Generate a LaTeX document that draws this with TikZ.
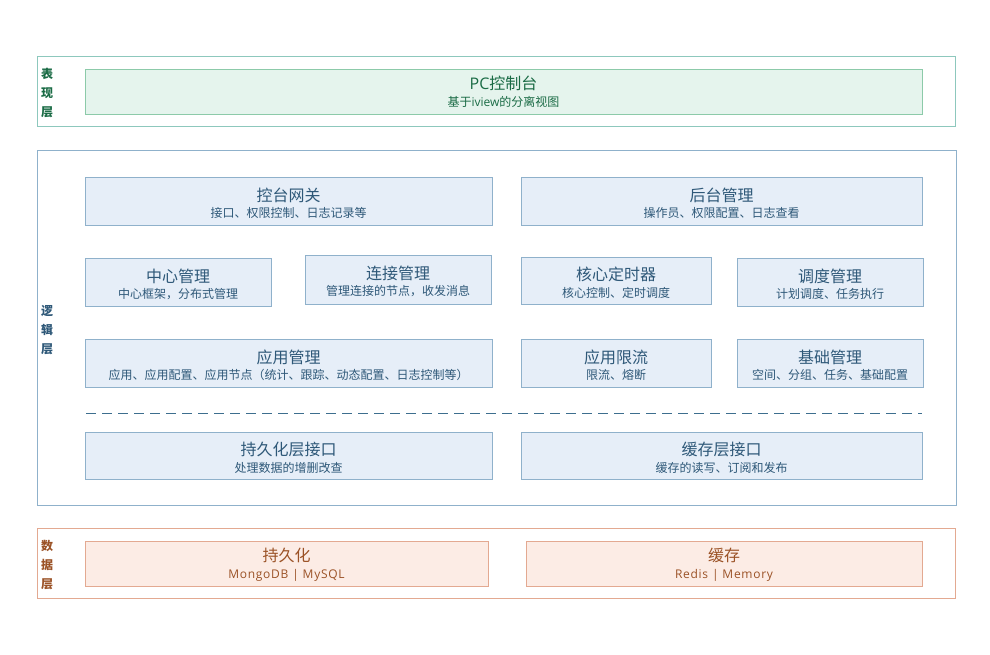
\documentclass[tikz,border=0pt]{standalone}
\usepackage{fontspec}
\setmainfont{Noto Sans CJK SC}
\newfontfamily\latinfont{Open Sans}[LetterSpace=6]
\newfontfamily\latinplain{Open Sans}
\usetikzlibrary{calc,fit}
\definecolor{presline}{HTML}{8DC8BD}
\definecolor{presbox}{HTML}{8CCAA9}
\definecolor{presfill}{HTML}{E5F4ED}
\definecolor{prestext}{HTML}{1A6B45}
\definecolor{logline}{HTML}{8FB1CB}
\definecolor{logfill}{HTML}{E6EEF8}
\definecolor{logtext}{HTML}{2E5878}
\definecolor{dashcol}{HTML}{3D6E8E}
\definecolor{datline}{HTML}{E3A991}
\definecolor{datfill}{HTML}{FCECE5}
\definecolor{dattext}{HTML}{9B5226}
\tikzset{
  outerbox/.style={draw=#1, line width=0.9pt, inner sep=0pt, outer sep=0pt},
  pbox/.style={draw=presbox, fill=presfill, line width=0.9pt, inner sep=0pt, outer sep=0pt},
  lbox/.style={draw=logline, fill=logfill, line width=0.9pt, inner sep=0pt, outer sep=0pt},
  dbox/.style={draw=datline, fill=datfill, line width=0.9pt, inner sep=0pt, outer sep=0pt},
  ttl/.style={text=#1, font=\fontsize{16}{19}\selectfont, inner sep=0pt},
  sub/.style={text=#1, font=\fontsize{12}{14}\selectfont, inner sep=0pt},
  layerlbl/.style={text=#1, font=\fontsize{12}{19}\selectfont\bfseries, align=center, inner sep=0pt},
}
\begin{document}
\begin{tikzpicture}[x=1pt,y=-1pt]
\useasboundingbox[fill=white] (0,0) rectangle (990,654);

% ---------- presentation layer ----------
\coordinate (po1) at (37,56); \coordinate (po2) at (955,126);
\node[outerbox=presline, fit=(po1)(po2)] (pres) {};
\node[layerlbl=prestext] (preslbl) at (47,93) {表\\现\\层};
\coordinate (pc1) at (85,69); \coordinate (pc2) at (922,114);
\node[pbox, fit=(pc1)(pc2)] (pc) {};
\node[ttl=prestext] (pct) at ($(pc.center)+(0,-8.5)$) {{\latinplain PC}控制台};
\node[sub=prestext] (pcs) at ($(pc.center)+(0,10.5)$) {基于{\latinplain iview}的分离视图};

% ---------- logic layer ----------
\coordinate (lo1) at (37,150); \coordinate (lo2) at (956,505);
\node[outerbox=logline, fit=(lo1)(lo2)] (logic) {};
\node[layerlbl=logtext] (loglbl) at (47,330) {逻\\辑\\层};

% row 1
\coordinate (a1) at (85,177); \coordinate (a2) at (492,225);
\node[lbox, fit=(a1)(a2)] (gw) {};
\node[ttl=logtext] at ($(gw.center)+(0,-6)$) {控台网关};
\node[sub=logtext] at ($(gw.center)+(0,12)$) {接口、权限控制、日志记录等};

\coordinate (b1) at (521,177); \coordinate (b2) at (922,225);
\node[lbox, fit=(b1)(b2)] (admin) {};
\node[ttl=logtext] at ($(admin.center)+(0,-6)$) {后台管理};
\node[sub=logtext] at ($(admin.center)+(0,12)$) {操作员、权限配置、日志查看};

% row 2
\coordinate (c1) at (85,258); \coordinate (c2) at (271,306);
\node[lbox, fit=(c1)(c2)] (center) {};
\node[ttl=logtext] at ($(center.center)+(0,-6)$) {中心管理};
\node[sub=logtext] at ($(center.center)+(0,12)$) {中心框架，分布式管理};

\coordinate (d1) at (305,255); \coordinate (d2) at (491,304);
\node[lbox, fit=(d1)(d2)] (conn) {};
\node[ttl=logtext] at ($(conn.center)+(0,-6)$) {连接管理};
\node[sub=logtext] at ($(conn.center)+(0,12)$) {管理连接的节点，收发消息};

\coordinate (e1) at (521,257); \coordinate (e2) at (711,304);
\node[lbox, fit=(e1)(e2)] (timer) {};
\node[ttl=logtext] at ($(timer.center)+(0,-6)$) {核心定时器};
\node[sub=logtext] at ($(timer.center)+(0,12)$) {核心控制、定时调度};

\coordinate (f1) at (737,258); \coordinate (f2) at (923,306);
\node[lbox, fit=(f1)(f2)] (sched) {};
\node[ttl=logtext] at ($(sched.center)+(0,-6)$) {调度管理};
\node[sub=logtext] at ($(sched.center)+(0,12)$) {计划调度、任务执行};

% row 3
\coordinate (g1) at (85,339); \coordinate (g2) at (492,387);
\node[lbox, fit=(g1)(g2)] (app) {};
\node[ttl=logtext] at ($(app.center)+(0,-6)$) {应用管理};
\node[sub=logtext] at ($(app.center)+(0,12)$) {应用、应用配置、应用节点（统计、跟踪、动态配置、日志控制等）};

\coordinate (h1) at (521,339); \coordinate (h2) at (711,387);
\node[lbox, fit=(h1)(h2)] (limit) {};
\node[ttl=logtext] at ($(limit.center)+(0,-6)$) {应用限流};
\node[sub=logtext] at ($(limit.center)+(0,12)$) {限流、熔断};

\coordinate (i1) at (737,339); \coordinate (i2) at (923,387);
\node[lbox, fit=(i1)(i2)] (base) {};
\node[ttl=logtext] at ($(base.center)+(0,-6)$) {基础管理};
\node[sub=logtext] at ($(base.center)+(0,12)$) {空间、分组、任务、基础配置};

% dashed separator
\coordinate (ds1) at (86,413); \coordinate (ds2) at (922,413);
\draw[dashcol, line width=1pt, dash pattern=on 10pt off 6pt] (ds1) -- (ds2);

% row 4
\coordinate (j1) at (85,432); \coordinate (j2) at (492,479);
\node[lbox, fit=(j1)(j2)] (persif) {};
\node[ttl=logtext] at ($(persif.center)+(0,-6)$) {持久化层接口};
\node[sub=logtext] at ($(persif.center)+(0,12)$) {处理数据的增删改查};

\coordinate (k1) at (521,432); \coordinate (k2) at (922,479);
\node[lbox, fit=(k1)(k2)] (cacheif) {};
\node[ttl=logtext] at ($(cacheif.center)+(0,-6)$) {缓存层接口};
\node[sub=logtext] at ($(cacheif.center)+(0,12)$) {缓存的读写、订阅和发布};

% ---------- data layer ----------
\coordinate (do1) at (37,528); \coordinate (do2) at (955,598);
\node[outerbox=datline, fit=(do1)(do2)] (data) {};
\node[layerlbl=dattext] (datlbl) at (47,565) {数\\据\\层};

\coordinate (m1) at (85,541); \coordinate (m2) at (488,586);
\node[dbox, fit=(m1)(m2)] (pers) {};
\node[ttl=dattext] at ($(pers.center)+(0,-8.5)$) {持久化};
\node[sub=dattext] at ($(pers.center)+(0,11.5)$) {\latinfont MongoDB | MySQL};

\coordinate (n1) at (526,541); \coordinate (n2) at (922,586);
\node[dbox, fit=(n1)(n2)] (cache) {};
\node[ttl=dattext] at ($(cache.center)+(0,-8.5)$) {缓存};
\node[sub=dattext] at ($(cache.center)+(0,11.5)$) {\latinfont Redis | Memory};
\end{tikzpicture}
\end{document}
